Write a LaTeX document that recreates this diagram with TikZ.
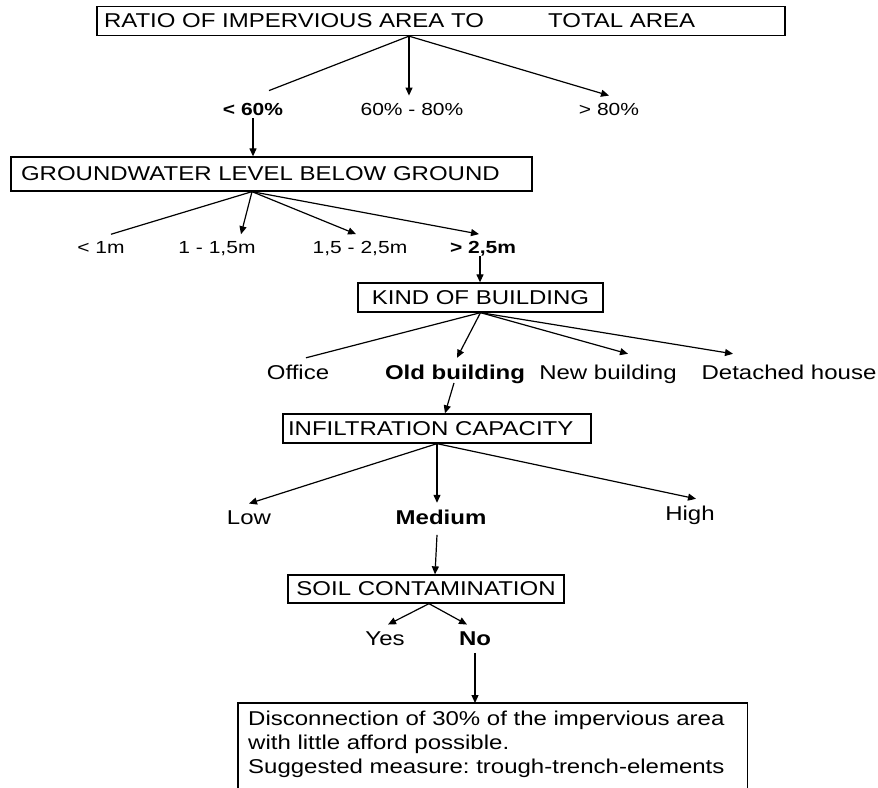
\documentclass[tikz,border=0pt]{standalone}
\usepackage{fontspec}
\setmainfont{Liberation Sans}[FakeStretch=1.2]
\usetikzlibrary{arrows.meta}
\newcommand{\bigtext}{\fontsize{20}{24}\selectfont}
\newcommand{\labtext}{\fontsize{20}{24}\selectfont}
\newcommand{\smalltext}{\fontsize{17.5}{21}\selectfont}
\frenchspacing

\begin{document}
\begin{tikzpicture}[x=1pt, y=-1pt, >={Triangle[length=8pt,width=7pt]},
  box/.style={draw, line width=1.3pt, inner ysep=0pt, font=\bigtext},
  lab/.style={anchor=base, inner xsep=3pt, inner ysep=7pt, font=\labtext},
  smalllab/.style={anchor=base, inner xsep=3pt, inner ysep=7pt, font=\smalltext},
  conn/.style={line width=1.2pt}]
  \useasboundingbox (0,0) rectangle (878,787);
  \clip (0,0) rectangle (878,787);

  \node[box, inner xsep=7pt, text width=674pt, minimum height=29pt, align=left] (ratio) at (441,21)
    {RATIO OF IMPERVIOUS AREA TO\hspace{64pt}TOTAL AREA};
  \node[smalllab, font=\smalltext\bfseries] (lt60) at (253,115) {< 60\%};
  \node[smalllab] (mid) at (412,115) {60\% - 80\%};
  \node[smalllab] (gt80) at (609,115) {> 80\%};

  \node[box, inner xsep=10pt, text width=501pt, minimum height=34pt, align=left] (ground) at (271.5,174)
    {GROUNDWATER LEVEL BELOW GROUND};
  \node[smalllab] (lt1) at (101,253.5) {< 1m};
  \node[smalllab] (one) at (217,253.5) {1 - 1,5m};
  \node[smalllab] (onehalf) at (360,253.5) {1,5 - 2,5m};
  \node[smalllab, font=\smalltext\bfseries] (gt25) at (483,253.5) {> 2,5m};

  \node[box, minimum width=245pt, minimum height=29pt] (kind) at (480.5,297.5) {KIND OF BUILDING};
  \node[lab] (office) at (298,379.5) {Office};
  \node[lab, font=\labtext\bfseries] (old) at (455,379.5) {Old building};
  \node[lab] (new) at (608,379.5) {New building};
  \node[lab] (detached) at (789,379.5) {Detached house};

  \node[box, inner xsep=5pt, text width=298pt, minimum height=29pt, align=left] (infil) at (437,428.5)
    {INFILTRATION CAPACITY};
  \node[lab] (low) at (249,524.5) {Low};
  \node[lab, font=\labtext\bfseries] (medium) at (441,524.5) {Medium};
  \node[lab] (high) at (690,520.5) {High};

  \node[box, minimum width=276pt, minimum height=28pt] (soil) at (426,589) {SOIL CONTAMINATION};
  \node[lab] (yes) at (385,645.5) {Yes};
  \node[lab, font=\labtext\bfseries] (no) at (475,645.5) {No};

  \node[anchor=north west, inner xsep=10pt, inner ysep=8pt, text width=489pt, align=left,
    font=\fontsize{20}{24}\selectfont] (measure) at (238,703)
    {Disconnection of 30\% of the impervious area\\ with little afford possible.\\ Suggested measure: trough-trench-elements};
  \draw[line width=1.3pt] ([yshift=-60pt]measure.south west) |- (measure.north east) -- ([yshift=-60pt]measure.south east);

  \coordinate (ratio-out) at ([xshift=-32pt]ratio.south);
  \draw[conn] (ratio-out) -- ([xshift=16pt,yshift=5pt]lt60.north);
  \draw[conn,->] (ratio-out) -- (ratio-out |- mid.north);
  \draw[conn,->] (ratio-out) -- (gt80.north);
  \draw[conn,->] ([yshift=4pt]lt60.south) -- (lt60.south |- ground.north);

  \coordinate (ground-out) at ([xshift=-19.5pt]ground.south);
  \draw[conn] (ground-out) -- ([xshift=10pt]lt1.north);
  \draw[conn,->] (ground-out) -- ([xshift=24pt]one.north);
  \draw[conn,->] (ground-out) -- ([xshift=-4pt]onehalf.north);
  \draw[conn,->] (ground-out) -- ([xshift=-4pt]gt25.north);
  \draw[conn,->] ([xshift=-3pt,yshift=7pt]gt25.south) -- ([xshift=-3pt]gt25.south |- kind.north);

  \draw[conn] (kind.south) -- ([xshift=8pt]office.north);
  \draw[conn,->] (kind.south) -- ([xshift=2pt]old.north);
  \draw[conn,->] (kind.south) -- ([xshift=20pt,yshift=4pt]new.north);
  \draw[conn,->] (kind.south) -- ([xshift=-56pt,yshift=4pt]detached.north);
  \draw[conn,->] ([xshift=-1pt,yshift=8pt]old.south) -- ([xshift=8pt]infil.north);

  \draw[conn,->] (infil.south) -- (low.north);
  \draw[conn,->] (infil.south) -- (infil.south |- medium.north);
  \draw[conn,->] (infil.south) -- ([xshift=6pt]high.north);
  \draw[conn,->] ([xshift=-4pt,yshift=-3pt]medium.south) -- ([xshift=9pt]soil.north);

  \coordinate (soil-out) at ([xshift=3pt]soil.south);
  \draw[conn,->] (soil-out) -- ([xshift=3pt]yes.north);
  \draw[conn,->] (soil-out) -- ([xshift=-8pt]no.north);
  \draw[conn,->] (no.south) -- (no.south |- measure.north);
\end{tikzpicture}
\end{document}
